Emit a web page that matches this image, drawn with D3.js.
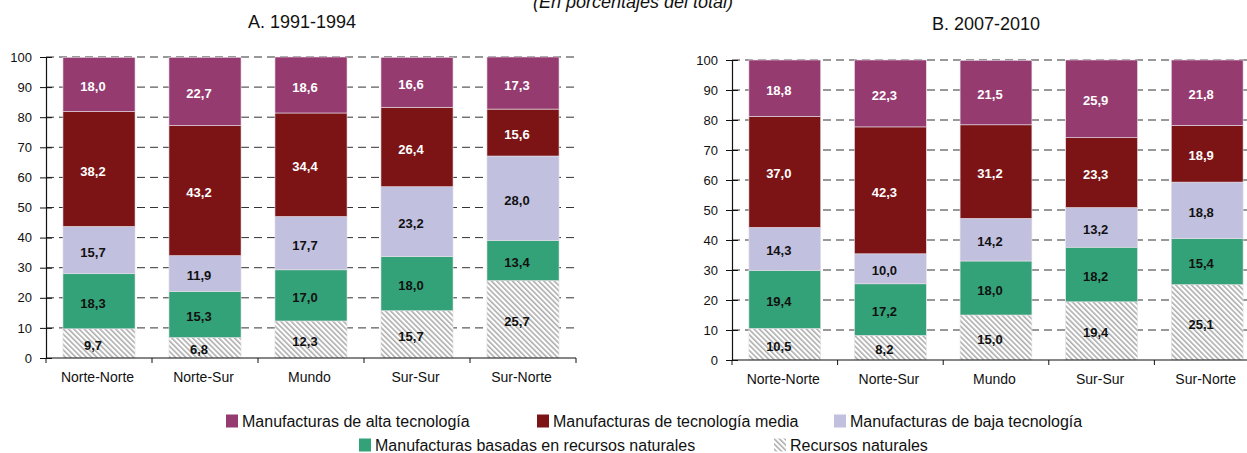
<!DOCTYPE html>
<html>
<head>
<meta charset="utf-8">
<script src="https://cdn.jsdelivr.net/npm/d3@7"></script>
<style>
  body { margin: 0; background: #fff; }
  svg { display: block; font-family: "Liberation Sans", Arial, sans-serif; }
</style>
</head>
<body>
<svg width="1247" height="453"></svg>
<script>
// categorias y series (de abajo hacia arriba)
let regions = ["Norte-Norte", "Norte-Sur", "Mundo", "Sur-Sur", "Sur-Norte"];
let seriesNames = [
  "Recursos naturales",
  "Manufacturas basadas en recursos naturales",
  "Manufacturas de baja tecnología",
  "Manufacturas de tecnología media",
  "Manufacturas de alta tecnología"
];
let yTicks = [0, 10, 20, 30, 40, 50, 60, 70, 80, 90, 100];

// A. 1991-1994
let a_recursos = [9.7, 6.8, 12.3, 15.7, 25.7];
let a_basadas  = [18.3, 15.3, 17.0, 18.0, 13.4];
let a_baja     = [15.7, 11.9, 17.7, 23.2, 28.0];
let a_media    = [38.2, 43.2, 34.4, 26.4, 15.6];
let a_alta     = [18.0, 22.7, 18.6, 16.6, 17.3];

// B. 2007-2010
let b_recursos = [10.5, 8.2, 15.0, 19.4, 25.1];
let b_basadas  = [19.4, 17.2, 18.0, 18.2, 15.4];
let b_baja     = [14.3, 10.0, 14.2, 13.2, 18.8];
let b_media    = [37.0, 42.3, 31.2, 23.3, 18.9];
let b_alta     = [18.8, 22.3, 21.5, 25.9, 21.8];

let fills = ["url(#hatch)", "#34a278", "#c2c0df", "#7c1416", "#963b6f"];
let labelColors = ["#111", "#111", "#111", "#fff", "#fff"];

let svg = d3.select("svg");

// rayado diagonal para recursos naturales
let defs = svg.append("defs");
let pat = defs.append("pattern")
  .attr("id", "hatch")
  .attr("patternUnits", "userSpaceOnUse")
  .attr("width", 3.7)
  .attr("height", 3.7)
  .attr("patternTransform", "rotate(-45)");
pat.append("rect").attr("width", 3.7).attr("height", 3.7).attr("fill", "#fff");
pat.append("line")
  .attr("x1", 0.8).attr("y1", 0).attr("x2", 0.8).attr("y2", 3.7)
  .attr("stroke", "#a9a9a9").attr("stroke-width", 1.5);

// subtitulo (cortado arriba)
svg.append("text")
  .attr("x", 633).attr("y", 7.5)
  .attr("text-anchor", "middle")
  .style("font-size", "18px")
  .style("font-style", "italic")
  .attr("fill", "#111")
  .text("(En porcentajes del total)");

function drawPanel(cfg) {
  let rows = regions.map((r, i) => {
    let o = { region: r };
    seriesNames.forEach((s, j) => { o[s] = cfg.values[j][i]; });
    return o;
  });

  let stack = d3.stack().keys(seriesNames)(rows);

  let x = d3.scaleBand()
    .domain(regions)
    .range([cfg.x0, cfg.x1])
    .paddingInner(0.32)
    .paddingOuter(0.16);

  let y = d3.scaleLinear()
    .domain([0, 100])
    .range([cfg.y0, cfg.y1]);

  let g = svg.append("g");

  g.append("text")
    .attr("x", cfg.titleX).attr("y", cfg.titleY)
    .attr("text-anchor", "middle")
    .style("font-size", "18px")
    .attr("fill", "#111")
    .text(cfg.title);

  // lineas de grilla
  g.selectAll(".grid")
    .data(yTicks.filter(d => d > 0))
    .enter().append("line")
    .attr("x1", cfg.x0).attr("x2", cfg.x1)
    .attr("y1", d => y(d)).attr("y2", d => y(d))
    .attr("stroke", "#333")
    .attr("stroke-width", 1)
    .attr("stroke-dasharray", "8,5");

  // barras
  let layer = g.selectAll(".layer")
    .data(stack)
    .enter().append("g")
    .attr("fill", (d, i) => fills[i]);

  layer.selectAll("rect")
    .data(d => d)
    .enter().append("rect")
    .attr("x", d => x(d.data.region))
    .attr("width", x.bandwidth())
    .attr("y", d => y(d[1]))
    .attr("height", d => y(d[0]) - y(d[1]))
    .attr("stroke", "#e6e0e8")
    .attr("stroke-width", 0.6);

  // etiquetas
  stack.forEach((s, i) => {
    g.selectAll(".lbl" + i)
      .data(s)
      .enter().append("text")
      .attr("x", d => x(d.data.region) + x.bandwidth() / 2 - 6)
      .attr("y", d => (y(d[0]) + y(d[1])) / 2 + 2)
      .attr("dy", "0.35em")
      .attr("text-anchor", "middle")
      .style("font-size", "13px")
      .style("font-weight", "bold")
      .attr("fill", labelColors[i])
      .text(d => d3.format(".1f")(d[1] - d[0]).replace(".", ","));
  });

  // eje y
  let yAxis = d3.axisLeft(y)
    .tickValues(yTicks)
    .tickSizeInner(6)
    .tickSizeOuter(0);
  let ya = g.append("g")
    .attr("transform", `translate(${cfg.x0},0)`)
    .call(yAxis);
  ya.select(".domain").attr("stroke", "#111").attr("stroke-width", 1.2);
  ya.selectAll(".tick line").attr("x2", 6).attr("x1", -6).attr("stroke", "#111");
  ya.selectAll(".tick text")
    .attr("x", -14)
    .style("font-size", "13px")
    .style("font-family", "Liberation Sans, Arial, sans-serif")
    .attr("fill", "#111");

  // eje x
  let xa = g.append("g").attr("transform", `translate(0,${cfg.y0})`);
  xa.append("line")
    .attr("x1", cfg.x0).attr("x2", cfg.x1)
    .attr("stroke", "#111").attr("stroke-width", 1.2);
  let bounds = d3.range(regions.length + 1).map(i => cfg.x0 + i * (cfg.x1 - cfg.x0) / regions.length);
  xa.selectAll(".xt")
    .data(bounds)
    .enter().append("line")
    .attr("x1", d => d).attr("x2", d => d)
    .attr("y1", 0).attr("y2", 5)
    .attr("stroke", "#111");
  xa.selectAll(".xl")
    .data(regions)
    .enter().append("text")
    .attr("x", d => x(d) + x.bandwidth() / 2 - 1.5)
    .attr("y", 24)
    .attr("text-anchor", "middle")
    .style("font-size", "14px")
    .attr("fill", "#111")
    .text(d => d);
}

drawPanel({
  title: "A. 1991-1994", titleX: 302, titleY: 28,
  x0: 46, x1: 576, y0: 358, y1: 57,
  values: [a_recursos, a_basadas, a_baja, a_media, a_alta]
});

drawPanel({
  title: "B. 2007-2010", titleX: 986, titleY: 30,
  x0: 732, x1: 1260, y0: 360, y1: 60,
  values: [b_recursos, b_basadas, b_baja, b_media, b_alta]
});

// leyenda
let legendItems = [
  { name: "Manufacturas de alta tecnología", fill: fills[4], x: 226, y: 421 },
  { name: "Manufacturas de tecnología media", fill: fills[3], x: 537, y: 421 },
  { name: "Manufacturas de baja tecnología", fill: fills[2], x: 834, y: 421 },
  { name: "Manufacturas basadas en recursos naturales", fill: fills[1], x: 359, y: 445 },
  { name: "Recursos naturales", fill: fills[0], x: 774, y: 445 }
];

let leg = svg.append("g").selectAll("g")
  .data(legendItems)
  .enter().append("g")
  .attr("transform", d => `translate(${d.x},${d.y})`);

leg.append("rect")
  .attr("x", 0).attr("y", -6.5)
  .attr("width", 12).attr("height", 13)
  .attr("fill", d => d.fill);

leg.append("text")
  .attr("x", 16).attr("y", 0)
  .attr("dy", "0.35em")
  .style("font-size", "16px")
  .attr("fill", "#111")
  .text(d => d.name);
</script>
</body>
</html>
